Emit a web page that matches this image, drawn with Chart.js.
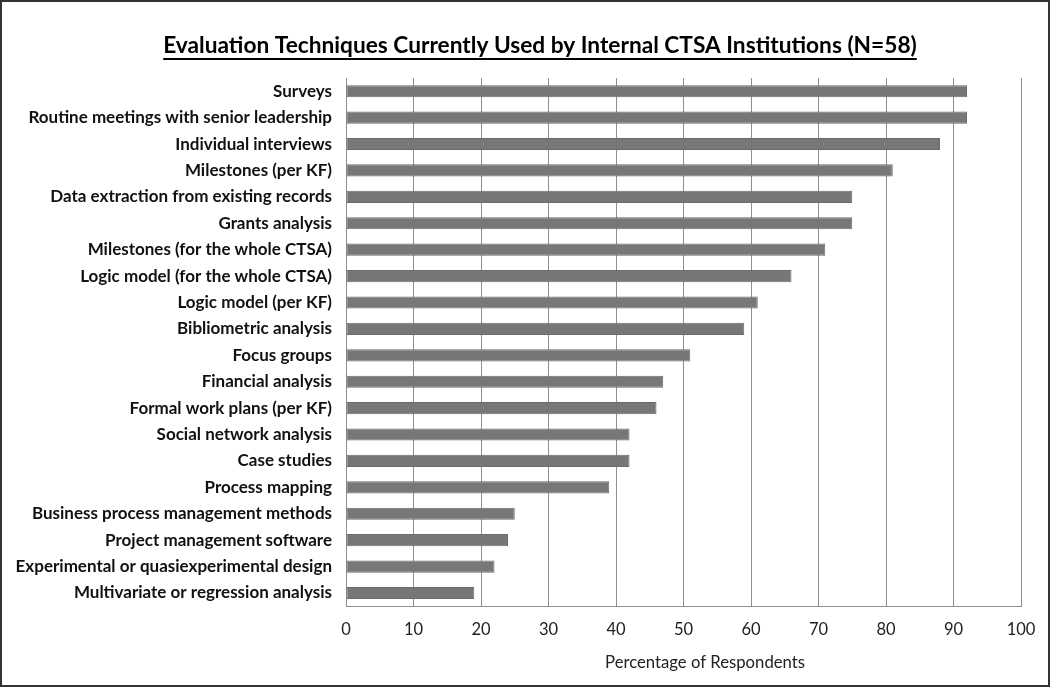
<!DOCTYPE html>
<html>
<head>
<meta charset="utf-8">
<script src="https://cdn.jsdelivr.net/npm/chart.js@4/dist/chart.umd.min.js"></script>
<style>
  html, body { margin: 0; padding: 0; background: #fff; }
  #wrap { width: 1050px; height: 687px; position: relative; }
  canvas { display: block; }
</style>
</head>
<body>
<div id="wrap"><canvas id="c" width="1050" height="687"></canvas></div>
<script>
const chartTitle = "Evaluation Techniques Currently Used by Internal CTSA Institutions (N=58)";
const axisTitle = "Percentage of Respondents";
const categories = [
  "Surveys",
  "Routine meetings with senior leadership",
  "Individual interviews",
  "Milestones (per KF)",
  "Data extraction from existing records",
  "Grants analysis",
  "Milestones (for the whole CTSA)",
  "Logic model (for the whole CTSA)",
  "Logic model (per KF)",
  "Bibliometric analysis",
  "Focus groups",
  "Financial analysis",
  "Formal work plans (per KF)",
  "Social network analysis",
  "Case studies",
  "Process mapping",
  "Business process management methods",
  "Project management software",
  "Experimental or quasiexperimental design",
  "Multivariate or regression analysis"
];
const percentages = [92, 92, 88, 81, 75, 75, 71, 66, 61, 59, 51, 47, 46, 42, 42, 39, 25, 24, 22, 19];
const xMin = 0, xMax = 100, xStep = 10;

const FONT = "Lato, 'Open Sans', sans-serif";

const decor = {
  id: 'decor',
  afterDraw(chart) {
    const ctx = chart.ctx;
    ctx.save();
    // frame
    ctx.strokeStyle = '#333';
    ctx.lineWidth = 2;
    ctx.strokeRect(1, 1, chart.width - 2, chart.height - 2);
    // title with underline
    ctx.font = "bold 22.7px " + FONT;
    ctx.fillStyle = '#000';
    ctx.textAlign = 'center';
    ctx.textBaseline = 'alphabetic';
    const cx = 540, by = 53;
    ctx.fillText(chartTitle, cx, by);
    const w = ctx.measureText(chartTitle).width;
    ctx.fillRect(cx - w / 2, by + 5, w, 2);
    // x-axis title
    ctx.font = "16.7px " + FONT;
    ctx.fillStyle = '#222';
    ctx.textBaseline = 'middle';
    ctx.fillText(axisTitle, 705, 663);
    ctx.restore();
  }
};

new Chart(document.getElementById('c'), {
  type: 'bar',
  data: {
    labels: categories,
    datasets: [{
      data: percentages,
      backgroundColor: '#777777',
      borderColor: '#6b6b6b',
      borderWidth: 1,
      borderSkipped: false,
      barPercentage: 0.46,
      categoryPercentage: 1.0
    }]
  },
  options: {
    indexAxis: 'y',
    responsive: false,
    animation: false,
    devicePixelRatio: 1,
    layout: { padding: { top: 78, right: 29, bottom: 33, left: 0 } },
    plugins: {
      legend: { display: false },
      title: { display: false },
      tooltip: { enabled: false }
    },
    scales: {
      x: {
        min: xMin, max: xMax,
        ticks: {
          stepSize: xStep,
          color: '#222',
          font: { family: FONT, size: 16.5 },
          padding: 14
        },
        grid: { color: '#8f8f8f', lineWidth: 1, drawTicks: false },
        border: { color: '#8f8f8f', width: 1 }
      },
      y: {
        ticks: {
          color: '#111',
          font: { family: FONT, size: 17, weight: 'bold' },
          padding: 14,
          autoSkip: false
        },
        grid: { display: false, drawTicks: false },
        border: { color: '#8f8f8f', width: 1 },
        afterFit(scale) { scale.width = 346; }
      }
    }
  },
  plugins: [decor]
});
</script>
</body>
</html>
